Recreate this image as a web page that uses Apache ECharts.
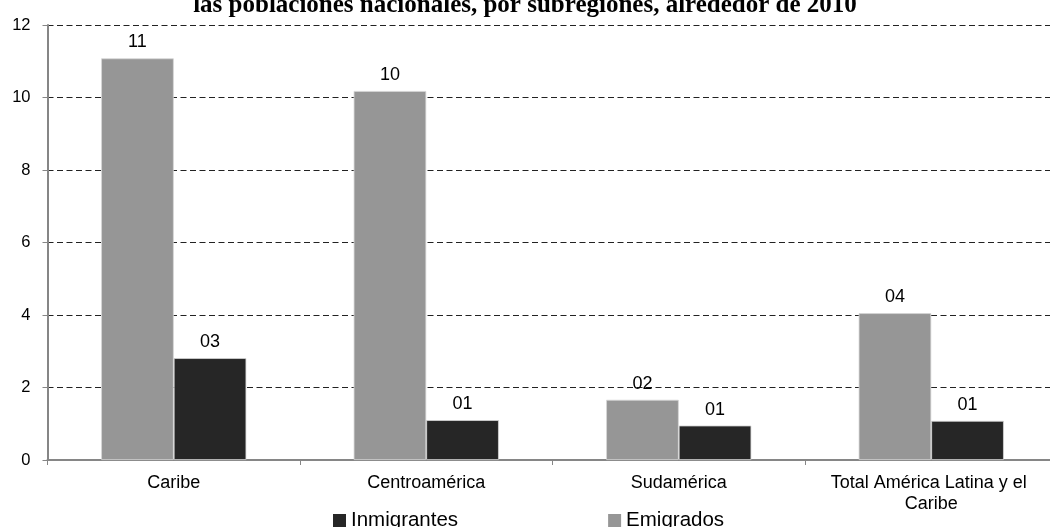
<!DOCTYPE html>
<html>
<head>
<meta charset="utf-8">
<script src="https://cdn.jsdelivr.net/npm/echarts@6/dist/echarts.min.js"></script>
<style>
  html, body { margin: 0; padding: 0; background: #fff; }
  #chart { width: 1050px; height: 527px; }
</style>
</head>
<body>
<div id="chart"></div>
<script>
// Subregions on the category axis
const categories = ['Caribe', 'Centroamérica', 'Sudamérica', 'Total América Latina y el Caribe'];
// Percent of national population
const emigrados = [11.08, 10.18, 1.66, 4.05];
const inmigrantes = [2.81, 1.10, 0.95, 1.08];
const yTicks = { min: 0, max: 12, interval: 2 };
const titleText = 'las poblaciones nacionales, por subregiones, alrededor de 2010';

const FONT = '"Liberation Sans", Arial, sans-serif';
const pad2 = v => String(Math.round(v)).padStart(2, '0');

const chart = echarts.init(document.getElementById('chart'), null, { renderer: 'canvas' });

const labelStyle = {
  show: true,
  position: 'top',
  distance: 7,
  fontFamily: FONT,
  fontSize: 18,
  color: '#000',
  formatter: p => pad2(p.value)
};

chart.setOption({
  animation: false,
  backgroundColor: '#fff',
  title: {
    text: titleText,
    left: 'center',
    top: -7,
    padding: 0,
    textStyle: {
      fontFamily: '"Liberation Serif", "Times New Roman", serif',
      fontWeight: 'bold',
      fontSize: 25,
      color: '#000'
    }
  },
  legend: {
    data: ['Inmigrantes', 'Emigrados'],
    left: 333,
    top: 510,
    padding: 0,
    itemGap: 150,
    itemWidth: 13,
    itemHeight: 13,
    icon: 'rect',
    itemStyle: { borderWidth: 0 },
    textStyle: { fontFamily: FONT, fontSize: 20.5, color: '#000' }
  },
  // plot area runs a little past the right edge of the canvas
  grid: { left: 47.5, width: 1010, top: 25, bottom: 67, outerBoundsMode: 'none' },
  xAxis: {
    type: 'category',
    data: categories,
    axisLine: { lineStyle: { color: '#868686', width: 2 } },
    axisTick: { show: true, length: 5, lineStyle: { color: '#868686', width: 1 } },
    axisLabel: {
      interval: 0,
      fontFamily: FONT,
      fontSize: 18,
      color: '#000',
      margin: 13,
      lineHeight: 21,
      width: 235,
      overflow: 'break'
    }
  },
  yAxis: {
    type: 'value',
    min: yTicks.min,
    max: yTicks.max,
    interval: yTicks.interval,
    axisLine: { show: true, lineStyle: { color: '#868686', width: 2 } },
    axisTick: { show: true, length: 5, lineStyle: { color: '#868686', width: 1 } },
    axisLabel: { fontFamily: FONT, fontSize: 16.5, color: '#000', margin: 17 },
    splitLine: { show: true, lineStyle: { color: '#222', type: [6, 3.5], width: 1 } }
  },
  series: [
    {
      name: 'Emigrados',
      type: 'bar',
      data: emigrados,
      barGap: '0%',
      barCategoryGap: '42.5%',
      itemStyle: { color: '#969696', borderColor: '#d6d6d6', borderWidth: 0.8 },
      label: labelStyle
    },
    {
      name: 'Inmigrantes',
      type: 'bar',
      data: inmigrantes,
      itemStyle: { color: '#262626', borderColor: '#d6d6d6', borderWidth: 0.8 },
      label: labelStyle
    }
  ]
});
</script>
</body>
</html>
